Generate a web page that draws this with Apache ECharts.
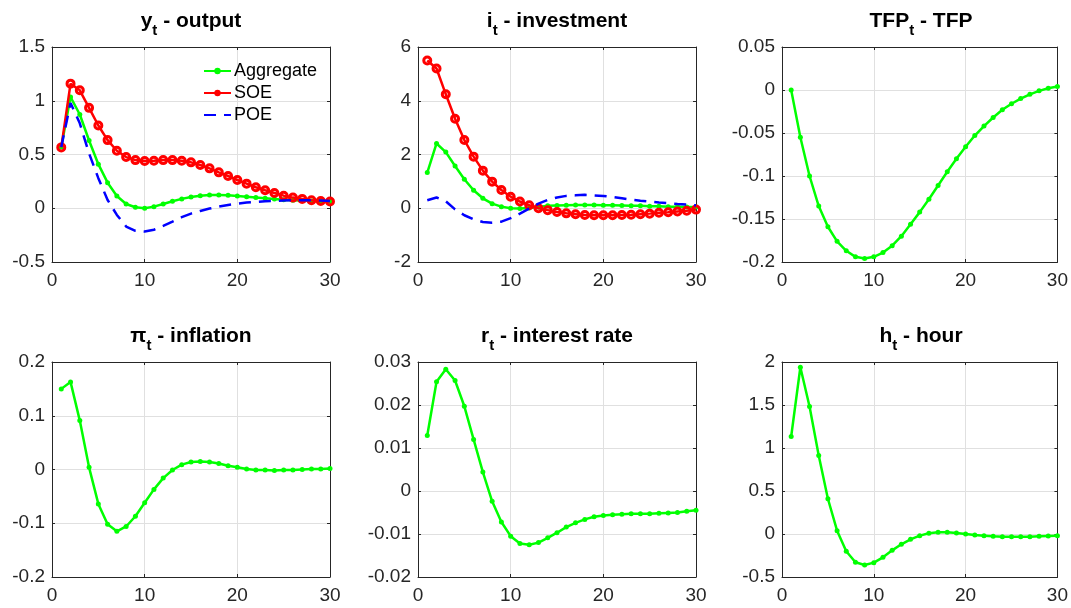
<!DOCTYPE html>
<html><head><meta charset="utf-8">
<script src="https://cdn.jsdelivr.net/npm/echarts@6/dist/echarts.min.js"></script>
<style>html,body{margin:0;padding:0;background:#fff}#c{width:1071px;height:608px}</style>
</head><body><div id="c"></div>
<script>
const periods = [1,2,3,4,5,6,7,8,9,10,11,12,13,14,15,16,17,18,19,20,21,22,23,24,25,26,27,28,29,30];
const xTicks = [0,10,20,30];
const seriesNames = ['Aggregate','SOE','POE'];

const outputAgg = [0.57,1.035,0.872,0.63,0.41,0.238,0.114,0.04,0.009,0.0,0.015,0.04,0.065,0.087,0.105,0.117,0.124,0.124,0.12,0.114,0.108,0.099,0.093,0.087,0.08,0.074,0.071,0.068,0.065,0.062];
const outputSOE = [0.566,1.159,1.097,0.934,0.77,0.634,0.535,0.476,0.448,0.439,0.442,0.448,0.448,0.442,0.427,0.402,0.371,0.334,0.30,0.263,0.229,0.195,0.167,0.142,0.117,0.099,0.087,0.074,0.068,0.062];
const outputPOE = [0.57,0.98,0.79,0.51,0.28,0.077,-0.062,-0.17,-0.21,-0.216,-0.2,-0.164,-0.124,-0.083,-0.05,-0.025,-0.003,0.015,0.031,0.043,0.053,0.059,0.065,0.068,0.071,0.074,0.074,0.074,0.071,0.068];

const invAgg = [1.33,2.41,2.09,1.57,1.08,0.67,0.37,0.17,0.06,0.0,-0.01,0.01,0.05,0.09,0.1,0.11,0.12,0.12,0.12,0.11,0.11,0.1,0.09,0.09,0.07,0.07,0.06,0.06,0.05,0.05];
const invSOE = [5.50,5.20,4.24,3.33,2.54,1.92,1.40,0.99,0.68,0.43,0.25,0.11,0.0,-0.07,-0.14,-0.19,-0.22,-0.25,-0.26,-0.26,-0.26,-0.25,-0.24,-0.22,-0.2,-0.17,-0.15,-0.12,-0.09,-0.05];
const invPOE = [0.30,0.40,0.26,-0.04,-0.26,-0.41,-0.51,-0.54,-0.50,-0.37,-0.2,-0.01,0.17,0.31,0.40,0.46,0.48,0.50,0.48,0.46,0.42,0.37,0.32,0.28,0.25,0.21,0.19,0.16,0.14,0.11];

const tfpAgg = [0,-0.055,-0.100,-0.135,-0.159,-0.176,-0.187,-0.194,-0.196,-0.194,-0.189,-0.181,-0.170,-0.156,-0.142,-0.127,-0.111,-0.095,-0.080,-0.066,-0.053,-0.042,-0.032,-0.023,-0.016,-0.010,-0.005,-0.001,0.002,0.004];

const inflAgg = [0.150,0.163,0.091,0.004,-0.064,-0.102,-0.115,-0.106,-0.087,-0.062,-0.037,-0.016,-0.001,0.009,0.014,0.015,0.014,0.011,0.007,0.004,0.001,-0.001,-0.001,-0.002,-0.001,-0.001,0,0.001,0.001,0.002];

const rateAgg = [0.0129,0.0254,0.0283,0.0257,0.0197,0.0120,0.0044,-0.0024,-0.0072,-0.0105,-0.0122,-0.0125,-0.0120,-0.0109,-0.0097,-0.0084,-0.0074,-0.0066,-0.0060,-0.0057,-0.0055,-0.0054,-0.0053,-0.0053,-0.0053,-0.0052,-0.0051,-0.0050,-0.0047,-0.0045];

const hourAgg = [1.134,1.939,1.482,0.913,0.410,0.039,-0.201,-0.329,-0.360,-0.333,-0.271,-0.190,-0.120,-0.062,-0.019,0.008,0.019,0.019,0.012,0,-0.012,-0.019,-0.027,-0.031,-0.031,-0.031,-0.031,-0.027,-0.023,-0.019];

const titleParts = [
  ['y','t',' - output'],
  ['i','t',' - investment'],
  ['TFP','t',' - TFP'],
  ['\u03c0','t',' - inflation'],
  ['r','t',' - interest rate'],
  ['h','t',' - hour']
];
const yRanges = [
  [-0.5,1.5,0.5],
  [-2,6,2],
  [-0.2,0.05,0.05],
  [-0.2,0.2,0.1],
  [-0.02,0.03,0.01],
  [-0.5,2,0.5]
];
const panelData = [
  [outputAgg,outputSOE,outputPOE],
  [invAgg,invSOE,invPOE],
  [tfpAgg],
  [inflAgg],
  [rateAgg],
  [hourAgg]
];

const FONT = 'Liberation Sans';
const colLeft = [52,418,782];
const colW = 278;
const rowTop = [47,362];
const rowH = 215;
const titleTop = [5,320];

function pts(vals){ return vals.map((v,i)=>[periods[i], v]); }

const grids=[], xAxes=[], yAxes=[], series=[], titles=[];
for (let p=0;p<6;p++){
  const r = Math.floor(p/3), c = p%3;
  grids.push({left:colLeft[c], top:rowTop[r], width:colW, height:rowH, containLabel:false});
  const [ymin,ymax,yint] = yRanges[p];
  const baseAxis = {
    gridIndex:p,
    axisLine:{show:true,onZero:false,lineStyle:{color:'#262626',width:1}},
    axisTick:{show:true,inside:true,length:3,lineStyle:{color:'#262626'}},
  };
  xAxes.push(Object.assign({}, baseAxis, {
    type:'value', position:'bottom', min:0, max:30, interval:10,
    axisLabel:{show:true,margin:9,color:'#262626',fontSize:19,fontFamily:FONT},
    splitLine:{show:true,lineStyle:{color:'#e0e0e0',width:1}}
  }));
  xAxes.push(Object.assign({}, baseAxis, {
    type:'value', position:'top', min:0, max:30, interval:10,
    axisLabel:{show:false}, splitLine:{show:false}
  }));
  yAxes.push(Object.assign({}, baseAxis, {
    type:'value', position:'left', min:ymin, max:ymax, interval:yint,
    axisLabel:{show:true,margin:7,color:'#262626',fontSize:19,fontFamily:FONT},
    splitLine:{show:true,lineStyle:{color:'#e0e0e0',width:1}}
  }));
  yAxes.push(Object.assign({}, baseAxis, {
    type:'value', position:'right', min:ymin, max:ymax, interval:yint,
    axisLabel:{show:false}, splitLine:{show:false}
  }));
  const xi = p*2, yi = p*2;
  const d = panelData[p];
  series.push({
    name:seriesNames[0], type:'line', xAxisIndex:xi, yAxisIndex:yi, data:pts(d[0]),
    symbol:'circle', symbolSize:5, z:3,
    lineStyle:{color:'#00ff00',width:2.5}, itemStyle:{color:'#00ff00'}
  });
  if (d.length>1){
    series.push({
      name:seriesNames[1], type:'line', xAxisIndex:xi, yAxisIndex:yi, data:pts(d[1]),
      symbol:'circle', symbolSize:7, z:4,
      lineStyle:{color:'#ff0000',width:2.5},
      itemStyle:{color:'rgba(255,0,0,0)',borderColor:'#ff0000',borderWidth:3}
    });
    series.push({
      name:seriesNames[2], type:'line', xAxisIndex:xi, yAxisIndex:yi, data:pts(d[2]),
      symbol:'none', showSymbol:false, z:5,
      lineStyle:{color:'#0000ff',width:2.5,type:[12,8]}, itemStyle:{color:'#0000ff'}
    });
  }
  const tp = titleParts[p];
  titles.push({
    text:'{m|'+tp[0]+'}{s|'+tp[1]+'}{m|'+tp[2]+'}',
    left: colLeft[c]+colW/2, top: titleTop[r], textAlign:'center', padding:0,
    textStyle:{
      fontFamily:FONT, fontWeight:'bold', fontSize:21, color:'#000',
      rich:{
        m:{fontFamily:FONT,fontWeight:'bold',fontSize:21,color:'#000'},
        s:{fontFamily:FONT,fontWeight:'bold',fontSize:15,color:'#000',padding:[18,0,0,0]}
      }
    }
  });
}

const chart = echarts.init(document.getElementById('c'), null, {renderer:'canvas'});
chart.setOption({
  animation:false,
  backgroundColor:'#fff',
  title:titles,
  legend:{
    data:[
      {name:seriesNames[0]},
      {name:seriesNames[1], itemStyle:{color:'#ff0000',borderColor:'#ff0000',borderWidth:0}},
      {name:seriesNames[2], itemStyle:{opacity:0}}
    ],
    orient:'vertical', left:203, top:62, itemGap:4,
    itemWidth:27, itemHeight:8, padding:0,
    textStyle:{fontFamily:FONT,fontSize:18,color:'#000',padding:[0,0,0,-2]},
    selectedMode:false
  },
  grid:grids, xAxis:xAxes, yAxis:yAxes, series:series
});
</script></body></html>
